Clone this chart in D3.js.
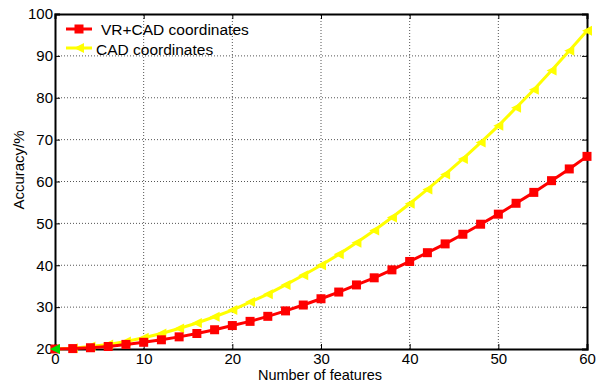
<!DOCTYPE html>
<html lang="en">
<head>
<meta charset="utf-8">
<title>Accuracy vs number of features</title>
<script src="https://cdnjs.cloudflare.com/ajax/libs/d3/7.8.5/d3.min.js"></script>
<style>
  body { margin: 0; background: #fff; }
  text { font-family: "Liberation Sans", Arial, sans-serif; }
</style>
</head>
<body>
<script>
var features = [0,2,4,6,8,10,12,14,16,18,20,22,24,26,28,30,32,34,36,38,40,42,44,46,48,50,52,54,56,58,60];
var vrCad = [20,20.1,20.3,20.6,21.1,21.6,22.2,22.9,23.7,24.6,25.6,26.6,27.8,29.1,30.5,32.0,33.6,35.3,37.0,38.9,40.9,43.0,45.1,47.4,49.8,52.2,54.8,57.4,60.2,63.0,66.0];
var cadOnly = [20,20.2,20.6,21.1,21.8,22.7,23.7,24.9,26.2,27.7,29.3,31.2,33.1,35.3,37.6,40.0,42.6,45.4,48.3,51.4,54.7,58.1,61.7,65.4,69.3,73.3,77.6,81.9,86.5,91.2,96.0];
var xTicks = [0,10,20,30,40,50,60];
var yTicks = [20,30,40,50,60,70,80,90,100];
var seriesNames = ["VR+CAD coordinates", "CAD coordinates"];

var W = 596, H = 383;
var m = {left: 55, right: 9, top: 14, bottom: 34};

var svg = d3.select("body").append("svg")
  .attr("width", W).attr("height", H);

var x = d3.scaleLinear().domain([0, 60]).range([m.left, W - m.right]);
var y = d3.scaleLinear().domain([20, 100]).range([H - m.bottom, m.top]);

// grid
svg.append("g").selectAll("line").data(xTicks.slice(1, -1)).enter().append("line")
  .attr("x1", function(d) { return x(d); }).attr("x2", function(d) { return x(d); })
  .attr("y1", y(20)).attr("y2", y(100))
  .attr("stroke", "#555").attr("stroke-width", 1).attr("stroke-dasharray", "1,2");
svg.append("g").selectAll("line").data(yTicks.slice(1, -1)).enter().append("line")
  .attr("x1", x(0)).attr("x2", x(60))
  .attr("y1", function(d) { return y(d); }).attr("y2", function(d) { return y(d); })
  .attr("stroke", "#555").attr("stroke-width", 1).attr("stroke-dasharray", "1,2");

// axes
svg.append("g").attr("transform", "translate(0," + y(20) + ")")
  .call(d3.axisBottom(x).tickValues(xTicks).tickSize(-5).tickPadding(4));
svg.append("g").attr("transform", "translate(" + x(0) + ",0)")
  .call(d3.axisLeft(y).tickValues(yTicks).tickSize(-5).tickPadding(2));
svg.append("g").attr("transform", "translate(0," + y(100) + ")")
  .call(d3.axisTop(x).tickValues(xTicks).tickSize(-5).tickFormat(""));
svg.append("g").attr("transform", "translate(" + x(60) + ",0)")
  .call(d3.axisRight(y).tickValues(yTicks).tickSize(-5).tickFormat(""));
svg.selectAll(".domain").attr("stroke", "#000").attr("stroke-width", 2);
svg.selectAll(".tick line").attr("stroke", "#000");
svg.selectAll(".tick text").attr("font-size", 15).attr("fill", "#000")
  .style("font-family", "Liberation Sans, Arial, sans-serif");

// labels
svg.append("text").attr("x", (x(0) + x(60)) / 2 - 1).attr("y", 380)
  .attr("text-anchor", "middle").attr("font-size", 14.5).text("Number of features");
svg.append("text").attr("transform", "translate(24,170) rotate(-90)")
  .attr("text-anchor", "middle").attr("font-size", 15).text("Accuracy/%");

var line = d3.line()
  .x(function(d, i) { return x(features[i]); })
  .y(function(d) { return y(d); });

function tri(cx, cy, s) {
  return "M" + (cx - s) + "," + cy + "L" + (cx + s) + "," + (cy - s) + "L" + (cx + s) + "," + (cy + s) + "Z";
}

// CAD coordinates (yellow)
svg.append("path").datum(cadOnly).attr("d", line)
  .attr("fill", "none").attr("stroke", "#ffff00").attr("stroke-width", 3);
svg.append("g").selectAll("path").data(cadOnly).enter().append("path")
  .attr("d", function(d, i) { return tri(x(features[i]), y(d), 5); })
  .attr("fill", "#ffff00");

// VR+CAD coordinates (red)
svg.append("path").datum(vrCad).attr("d", line)
  .attr("fill", "none").attr("stroke", "#ff0000").attr("stroke-width", 3);
svg.append("g").selectAll("rect").data(vrCad).enter().append("rect")
  .attr("x", function(d, i) { return x(features[i]) - 4.5; })
  .attr("y", function(d) { return y(d) - 4.5; })
  .attr("width", 9).attr("height", 9).attr("fill", "#ff0000");

// green start marker
svg.append("path").attr("d", tri(x(features[0]), y(cadOnly[0]), 5)).attr("fill", "#00dd00");

// legend
var leg = svg.append("g");
leg.append("line").attr("x1", 66).attr("x2", 92).attr("y1", 29).attr("y2", 29)
  .attr("stroke", "#ff0000").attr("stroke-width", 3);
leg.append("rect").attr("x", 74.5).attr("y", 24.5).attr("width", 9).attr("height", 9).attr("fill", "#ff0000");
leg.append("text").attr("x", 101).attr("y", 35).attr("font-size", 15.5).text(seriesNames[0]);
leg.append("line").attr("x1", 66).attr("x2", 92).attr("y1", 48).attr("y2", 48)
  .attr("stroke", "#ffff00").attr("stroke-width", 3);
leg.append("path").attr("d", tri(79, 48, 5)).attr("fill", "#ffff00");
leg.append("text").attr("x", 96).attr("y", 55).attr("font-size", 15.5).text(seriesNames[1]);
</script>
</body>
</html>
